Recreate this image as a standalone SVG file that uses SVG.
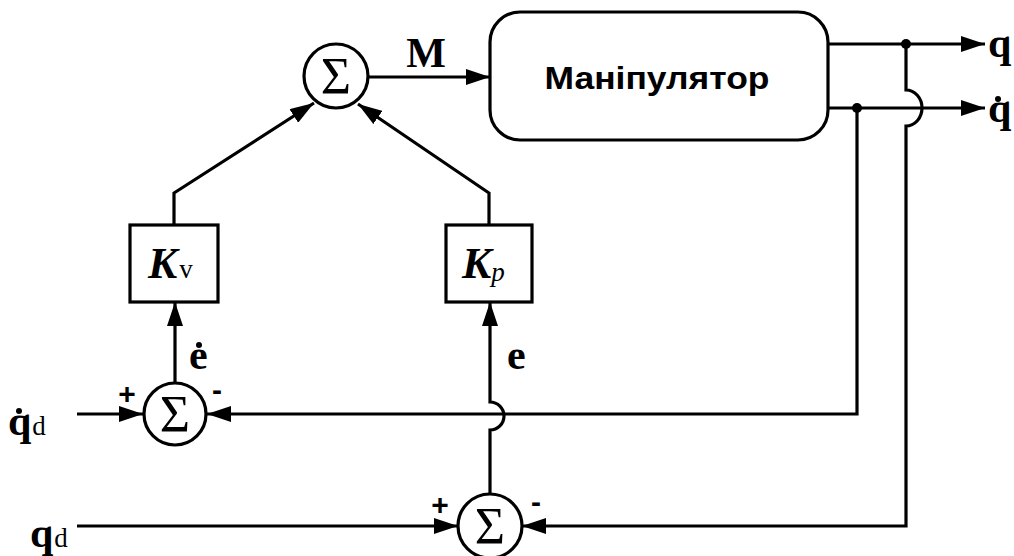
<svg xmlns="http://www.w3.org/2000/svg" width="1014" height="556" viewBox="0 0 1014 556">
<defs>
<marker id="ah" markerWidth="24" markerHeight="16" refX="24" refY="8" orient="auto" markerUnits="userSpaceOnUse">
<path d="M0,0 L24,8 L0,16 Z" fill="#000"/>
</marker>
<style>
.ln{fill:none;stroke:#000;stroke-width:3.2;stroke-linejoin:miter}
.bx{fill:#fff;stroke:#000;stroke-width:3.2}
.sig{font-family:"Liberation Serif",serif;font-size:52px;text-anchor:middle}
.k{font-family:"Liberation Serif",serif;font-size:44px;font-weight:bold;font-style:italic}
.sub{font-family:"Liberation Serif",serif;font-size:27px}
.lb{font-family:"Liberation Serif",serif;font-size:42px;font-weight:bold}
.pm{font-family:"Liberation Sans",sans-serif;font-size:30px;font-weight:bold;text-anchor:middle}
</style>
</defs>
<rect width="1014" height="556" fill="#fff"/>
<g id="connectors">
<line class="ln" x1="368" y1="77" x2="490" y2="77" marker-end="url(#ah)"/>
<polyline class="ln" points="174,225 174,193 314,103" marker-end="url(#ah)"/>
<polyline class="ln" points="489,225 489,193 358,104" marker-end="url(#ah)"/>
<line class="ln" x1="175" y1="383" x2="175" y2="302" marker-end="url(#ah)"/>
<path class="ln" d="M490,494 L490,430 A14,14 0 0 0 490,402 L490,302" marker-end="url(#ah)"/>
<line class="ln" x1="77" y1="414" x2="143" y2="414" marker-end="url(#ah)"/>
<line class="ln" x1="77" y1="526" x2="458" y2="526" marker-end="url(#ah)"/>
<line class="ln" x1="828" y1="44" x2="985" y2="44" marker-end="url(#ah)"/>
<line class="ln" x1="828" y1="108" x2="985" y2="108" marker-end="url(#ah)"/>
<polyline class="ln" points="857,108 857,414 207,414" marker-end="url(#ah)"/>
<path class="ln" d="M906,44 L906,90 A16,18 0 0 1 906,126 L906,526 L522,526" marker-end="url(#ah)"/>
<circle cx="906" cy="44" r="5" fill="#000"/>
<circle cx="857" cy="108" r="5" fill="#000"/>
</g>
<g id="sum-top">
<circle class="bx" cx="336" cy="76" r="32"/>
<text class="sig" x="336" y="94">Σ</text>
</g>
<g id="manipulator">
<rect class="bx" x="490" y="12" width="338" height="128" rx="30"/>
<text x="657" y="89" font-family="'Liberation Sans',sans-serif" font-size="32" font-weight="bold" text-anchor="middle" textLength="225" lengthAdjust="spacingAndGlyphs">Маніпулятор</text>
</g>
<g id="kv">
<rect class="bx" x="130" y="225" width="88" height="77"/>
<text x="148" y="278"><tspan class="k">K</tspan><tspan class="sub" dx="2">v</tspan></text>
</g>
<g id="kp">
<rect class="bx" x="446" y="225" width="86" height="77"/>
<text x="462" y="278"><tspan class="k">K</tspan><tspan class="sub" font-style="italic" dx="0" dy="3">p</tspan></text>
</g>
<g id="sum-left">
<circle class="bx" cx="175" cy="414" r="31"/>
<text class="sig" x="175" y="432">Σ</text>
<text class="pm" x="127" y="404">+</text>
<text class="pm" x="217" y="400">-</text>
</g>
<g id="sum-bottom">
<circle class="bx" cx="490" cy="526" r="32"/>
<text class="sig" x="490" y="544">Σ</text>
<text class="pm" x="440" y="515">+</text>
<text class="pm" x="536" y="512">-</text>
</g>
<g id="labels">
<text class="lb" x="426" y="67" text-anchor="middle">M</text>
<text class="lb" x="988" y="57">q</text>
<text class="lb" x="988" y="122">q</text>
<circle cx="998" cy="99" r="3" fill="#000"/>
<text class="lb" x="189" y="369">e</text>
<circle cx="199" cy="345" r="3" fill="#000"/>
<text class="lb" x="507" y="369">e</text>
<text x="8" y="435"><tspan class="lb">q</tspan><tspan class="sub" dx="1">d</tspan></text>
<circle cx="19" cy="411" r="3" fill="#000"/>
<text x="30" y="547"><tspan class="lb">q</tspan><tspan class="sub" dx="1">d</tspan></text>
</g>
</svg>
